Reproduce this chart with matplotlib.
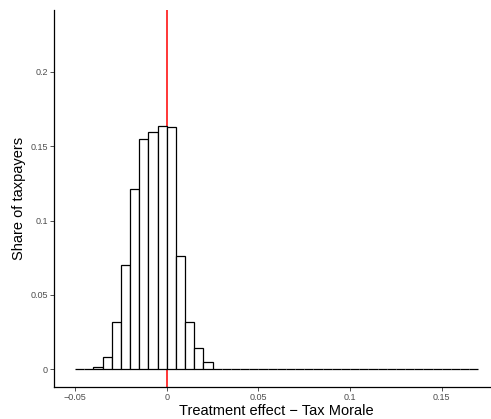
import matplotlib
matplotlib.use("Agg")
import matplotlib.pyplot as plt

# histogram bins (left edges, width 0.005) and share of taxpayers per bin
bin_left = [-0.05, -0.045, -0.04, -0.035, -0.03, -0.025, -0.02, -0.015, -0.01, -0.005,
            0.0, 0.005, 0.01, 0.015, 0.02, 0.025, 0.03, 0.035, 0.04, 0.045,
            0.05, 0.055, 0.06, 0.065, 0.07, 0.075, 0.08, 0.085, 0.09, 0.095,
            0.1, 0.105, 0.11, 0.115, 0.12, 0.125, 0.13, 0.135, 0.14, 0.145,
            0.15, 0.155, 0.16, 0.165]
share = [0.0, 0.0004, 0.0013, 0.0081, 0.0318, 0.0699, 0.1214, 0.1548, 0.1597, 0.1635,
         0.1628, 0.0764, 0.0316, 0.0143, 0.0052, 0.0005, 0.0, 0.0, 0.0, 0.0,
         0.0, 0.0, 0.0, 0.0, 0.0, 0.0, 0.0, 0.0, 0.0, 0.0,
         0.0, 0.0, 0.0, 0.0, 0.0, 0.0, 0.0, 0.0, 0.0, 0.0,
         0.0, 0.0, 0.0, 0.0]
bin_width = 0.005

xticks = [-0.05, 0, 0.05, 0.1, 0.15]
xtick_labels = ["\u22120.05", "0", "0.05", "0.1", "0.15"]
yticks = [0, 0.05, 0.1, 0.15, 0.2]
ytick_labels = ["0", "0.05", "0.1", "0.15", "0.2"]

plt.rcParams['font.family'] = ['Liberation Sans', 'DejaVu Sans']

fig = plt.figure(figsize=(4.91, 4.19), dpi=100)
ax = fig.add_axes([0.1106, 0.0771, 0.9047, 0.899])

# red line sits under the bars, as in the original
ax.axvline(0, color='#FF0000', linewidth=1.1, zorder=1)
ax.bar(bin_left, share, width=bin_width, align='edge', facecolor='white',
       edgecolor='black', linewidth=0.9, zorder=2)

ax.set_xlim(-0.0613, 0.181)
ax.set_ylim(-0.0117, 0.2415)

ax.set_xticks(xticks)
ax.set_xticklabels(xtick_labels)
ax.set_yticks(yticks)
ax.set_yticklabels(ytick_labels)
ax.tick_params(axis='both', labelsize=6.5, labelcolor='#4D4D4D', color='#333333',
               length=2.7, width=0.6, pad=2)

for side in ['top', 'right']:
    ax.spines[side].set_visible(False)
for side in ['left', 'bottom']:
    ax.spines[side].set_color('black')
    ax.spines[side].set_linewidth(0.9)

ax.set_xlabel("Treatment effect \u2212 Tax Morale", fontsize=10.5, labelpad=1)
ax.set_ylabel("Share of taxpayers", fontsize=10.5, labelpad=3)

fig.savefig("out.png", dpi=100)
